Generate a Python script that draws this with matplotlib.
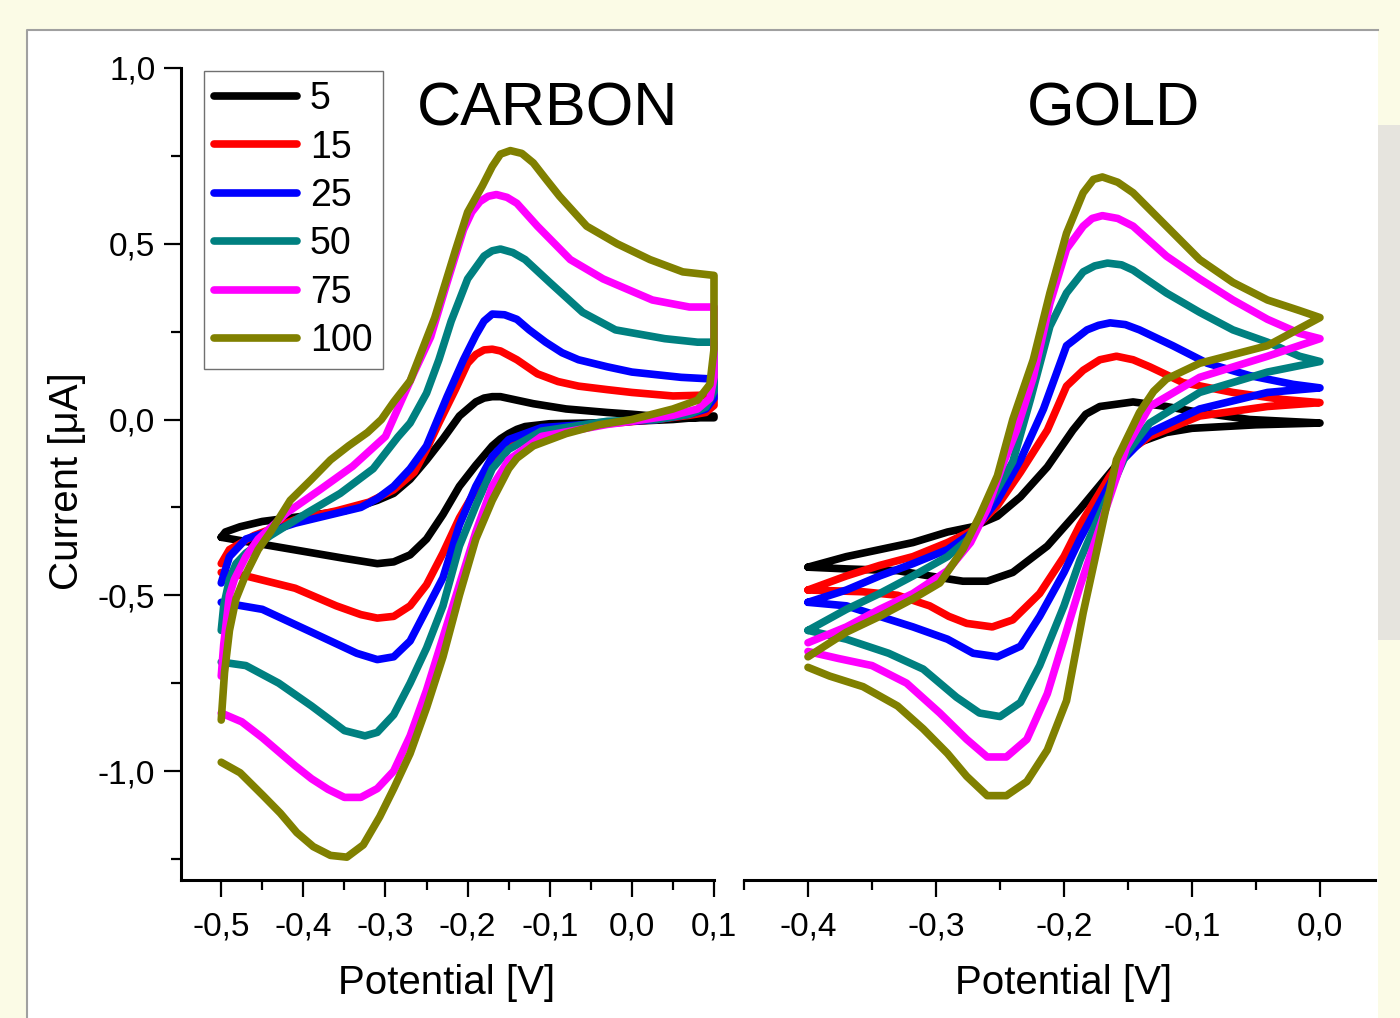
import matplotlib.pyplot as plt
from matplotlib.patches import Rectangle
from matplotlib.lines import Line2D
from matplotlib.ticker import MultipleLocator, FuncFormatter

plt.rcParams['font.family'] = ['Liberation Sans', 'DejaVu Sans']

rates = ['5', '15', '25', '50', '75', '100']
colors = ['#000000', '#ff0000', '#0000ff', '#008080', '#ff00ff', '#808000']

# CARBON: forward scan (left -> right) followed by reverse scan (right -> left)
c5_E = [-0.5, -0.495, -0.477, -0.45, -0.40, -0.35, -0.31, -0.29, -0.27, -0.25, -0.23, -0.21, -0.19, -0.18, -0.17, -0.16, -0.15, -0.12, -0.08, -0.03, 0.0, 0.05, 0.1,
        0.1, 0.05, 0.0, -0.05, -0.1, -0.13, -0.14, -0.15, -0.16, -0.17, -0.19, -0.21, -0.23, -0.25, -0.27, -0.29, -0.31, -0.35, -0.40, -0.45, -0.5]
c5_I = [-0.335, -0.32, -0.305, -0.29, -0.275, -0.26, -0.23, -0.21, -0.17, -0.115, -0.055, 0.01, 0.05, 0.061, 0.065, 0.065, 0.06, 0.045, 0.03, 0.02, 0.015, 0.005, 0.005,
        0.01, 0.0, -0.005, -0.01, -0.012, -0.02, -0.028, -0.04, -0.055, -0.075, -0.13, -0.19, -0.27, -0.34, -0.385, -0.405, -0.41, -0.395, -0.375, -0.355, -0.335]

c15_E = [-0.5, -0.49, -0.46, -0.41, -0.36, -0.32, -0.29, -0.265, -0.25, -0.235, -0.215, -0.2, -0.19, -0.18, -0.17, -0.16, -0.14, -0.115, -0.09, -0.065, -0.03, 0.0, 0.05, 0.1,
         0.1, 0.09, 0.07, 0.03, -0.02, -0.08, -0.12, -0.15, -0.17, -0.19, -0.21, -0.23, -0.25, -0.27, -0.29, -0.31, -0.33, -0.36, -0.41, -0.47, -0.5]
c15_I = [-0.41, -0.37, -0.33, -0.285, -0.26, -0.235, -0.2, -0.15, -0.085, -0.01, 0.085, 0.16, 0.185, 0.198, 0.2, 0.195, 0.17, 0.13, 0.108, 0.095, 0.085, 0.077, 0.067, 0.07,
         0.04, 0.02, 0.012, 0.0, -0.01, -0.02, -0.04, -0.075, -0.12, -0.2, -0.28, -0.38, -0.47, -0.53, -0.56, -0.565, -0.555, -0.53, -0.48, -0.445, -0.435]

c25_E = [-0.5, -0.49, -0.47, -0.41, -0.33, -0.31, -0.29, -0.27, -0.25, -0.225, -0.205, -0.19, -0.18, -0.17, -0.155, -0.14, -0.125, -0.105, -0.085, -0.065, -0.03, 0.0, 0.06, 0.1,
         0.1, 0.09, 0.07, 0.03, -0.03, -0.11, -0.15, -0.17, -0.19, -0.21, -0.23, -0.25, -0.27, -0.29, -0.31, -0.335, -0.39, -0.45, -0.5]
c25_I = [-0.465, -0.39, -0.34, -0.295, -0.25, -0.225, -0.19, -0.14, -0.075, 0.065, 0.17, 0.24, 0.28, 0.3, 0.298, 0.285, 0.255, 0.22, 0.19, 0.17, 0.15, 0.135, 0.12, 0.115,
         0.06, 0.03, 0.015, 0.0, -0.01, -0.023, -0.057, -0.105, -0.19, -0.30, -0.45, -0.54, -0.63, -0.675, -0.683, -0.665, -0.605, -0.54, -0.52]

c50_E = [-0.5, -0.497, -0.49, -0.482, -0.47, -0.44, -0.395, -0.355, -0.315, -0.285, -0.27, -0.25, -0.235, -0.22, -0.2, -0.18, -0.17, -0.16, -0.145, -0.13, -0.1, -0.06, -0.02, 0.04, 0.08, 0.1,
         0.1, 0.09, 0.07, 0.03, -0.03, -0.11, -0.15, -0.17, -0.19, -0.21, -0.23, -0.25, -0.27, -0.29, -0.31, -0.325, -0.35, -0.39, -0.43, -0.47, -0.5]
c50_I = [-0.6, -0.53, -0.455, -0.41, -0.38, -0.33, -0.265, -0.21, -0.14, -0.05, -0.01, 0.075, 0.17, 0.28, 0.4, 0.465, 0.48, 0.485, 0.475, 0.455, 0.39, 0.305, 0.255, 0.23, 0.22, 0.22,
         0.08, 0.035, 0.015, 0.0, -0.005, -0.033, -0.085, -0.14, -0.245, -0.36, -0.53, -0.65, -0.75, -0.84, -0.89, -0.9, -0.885, -0.815, -0.75, -0.70, -0.69]

c75_E = [-0.5, -0.497, -0.49, -0.484, -0.47, -0.455, -0.42, -0.38, -0.34, -0.3, -0.28, -0.265, -0.245, -0.225, -0.205, -0.195, -0.185, -0.175, -0.165, -0.152, -0.14, -0.115, -0.075, -0.035, 0.025, 0.07, 0.1,
         0.1, 0.095, 0.08, 0.05, 0.0, -0.03, -0.11, -0.15, -0.17, -0.19, -0.21, -0.23, -0.25, -0.27, -0.29, -0.31, -0.33, -0.35, -0.37, -0.39, -0.41, -0.43, -0.45, -0.475, -0.5]
c75_I = [-0.73, -0.64, -0.5, -0.455, -0.39, -0.34, -0.265, -0.2, -0.133, -0.048, 0.057, 0.135, 0.235, 0.39, 0.54, 0.59, 0.62, 0.635, 0.64, 0.632, 0.615, 0.55, 0.455, 0.4, 0.34, 0.32, 0.32,
         0.12, 0.06, 0.03, 0.012, -0.005, -0.014, -0.048, -0.115, -0.19, -0.32, -0.47, -0.62, -0.77, -0.9, -1.0, -1.05, -1.075, -1.075, -1.052, -1.022, -0.985, -0.945, -0.905, -0.86, -0.835]

c100_E = [-0.5, -0.496, -0.49, -0.482, -0.47, -0.455, -0.44, -0.416, -0.39, -0.367, -0.345, -0.322, -0.305, -0.29, -0.27, -0.255, -0.24, -0.215, -0.2, -0.182, -0.17, -0.16, -0.148, -0.134, -0.12, -0.105, -0.088, -0.055, -0.018, 0.022, 0.062, 0.1,
          0.1, 0.095, 0.08, 0.05, 0.0, -0.04, -0.08, -0.12, -0.14, -0.15, -0.17, -0.19, -0.21, -0.23, -0.25, -0.27, -0.29, -0.307, -0.327, -0.347, -0.367, -0.388, -0.408, -0.428, -0.449, -0.477, -0.5]
c100_I = [-0.855, -0.72, -0.6, -0.51, -0.44, -0.37, -0.32, -0.23, -0.17, -0.115, -0.075, -0.037, 0.0, 0.05, 0.11, 0.2, 0.29, 0.48, 0.59, 0.665, 0.72, 0.755, 0.765, 0.757, 0.73, 0.685, 0.635, 0.55, 0.5, 0.455, 0.42, 0.41,
          0.2, 0.1, 0.055, 0.03, 0.0, -0.015, -0.04, -0.075, -0.11, -0.14, -0.23, -0.34, -0.5, -0.675, -0.82, -0.95, -1.05, -1.13, -1.21, -1.245, -1.24, -1.215, -1.175, -1.12, -1.07, -1.005, -0.975]

# GOLD
g5_E = [-0.4, -0.37, -0.344, -0.318, -0.291, -0.271, -0.252, -0.234, -0.213, -0.193, -0.183, -0.172, -0.146, -0.12, -0.094, -0.055, 0.0,
        -0.05, -0.1, -0.12, -0.141, -0.159, -0.1875, -0.213, -0.24, -0.26, -0.279, -0.305, -0.33, -0.37, -0.4]
g5_I = [-0.42, -0.39, -0.37, -0.35, -0.32, -0.305, -0.275, -0.22, -0.135, -0.03, 0.015, 0.037, 0.05, 0.037, 0.02, 0.0, -0.01,
        -0.015, -0.025, -0.037, -0.065, -0.13, -0.255, -0.36, -0.435, -0.46, -0.46, -0.445, -0.43, -0.425, -0.42]

g15_E = [-0.4, -0.37, -0.344, -0.318, -0.291, -0.271, -0.252, -0.234, -0.213, -0.198, -0.185, -0.172, -0.159, -0.146, -0.133, -0.107, -0.068, -0.029, 0.0,
         -0.041, -0.094, -0.133, -0.151, -0.164, -0.1875, -0.2, -0.219, -0.24, -0.256, -0.276, -0.29, -0.305, -0.33, -0.357, -0.4]
g15_I = [-0.485, -0.445, -0.415, -0.39, -0.35, -0.315, -0.245, -0.15, -0.03, 0.095, 0.14, 0.17, 0.18, 0.17, 0.15, 0.105, 0.077, 0.057, 0.048,
         0.037, 0.01, -0.048, -0.095, -0.16, -0.3, -0.39, -0.495, -0.57, -0.59, -0.58, -0.56, -0.53, -0.5, -0.49, -0.485]

g25_E = [-0.4, -0.37, -0.344, -0.318, -0.291, -0.271, -0.252, -0.234, -0.216, -0.198, -0.182, -0.173, -0.164, -0.152, -0.141, -0.115, -0.088, -0.055, -0.021, 0.0,
         -0.041, -0.094, -0.133, -0.154, -0.1875, -0.2, -0.219, -0.234, -0.252, -0.271, -0.291, -0.318, -0.344, -0.37, -0.4]
g25_I = [-0.52, -0.485, -0.445, -0.41, -0.37, -0.32, -0.23, -0.115, 0.03, 0.21, 0.255, 0.268, 0.275, 0.27, 0.255, 0.21, 0.16, 0.125, 0.1, 0.09,
         0.077, 0.03, -0.037, -0.115, -0.34, -0.435, -0.56, -0.645, -0.675, -0.665, -0.625, -0.59, -0.56, -0.53, -0.52]

g50_E = [-0.4, -0.37, -0.344, -0.318, -0.291, -0.273, -0.257, -0.24, -0.226, -0.211, -0.198, -0.185, -0.176, -0.166, -0.155, -0.146, -0.12, -0.094, -0.068, -0.041, -0.016, 0.0,
         -0.041, -0.094, -0.133, -0.151, -0.1875, -0.2, -0.219, -0.234, -0.25, -0.266, -0.284, -0.31, -0.337, -0.37, -0.4]
g50_I = [-0.6, -0.54, -0.495, -0.445, -0.39, -0.335, -0.23, -0.12, 0.06, 0.265, 0.36, 0.42, 0.437, 0.445, 0.44, 0.425, 0.36, 0.305, 0.255, 0.22, 0.18, 0.165,
         0.135, 0.077, -0.01, -0.095, -0.4, -0.53, -0.70, -0.805, -0.845, -0.835, -0.79, -0.71, -0.665, -0.625, -0.6]

g75_E = [-0.4, -0.37, -0.344, -0.318, -0.291, -0.273, -0.26, -0.248, -0.237, -0.224, -0.211, -0.198, -0.185, -0.178, -0.17, -0.158, -0.146, -0.12, -0.094, -0.068, -0.041, -0.016, 0.0,
         -0.041, -0.094, -0.133, -0.151, -0.1875, -0.2, -0.213, -0.229, -0.245, -0.26, -0.276, -0.297, -0.323, -0.35, -0.376, -0.4]
g75_I = [-0.635, -0.59, -0.54, -0.495, -0.43, -0.35, -0.255, -0.13, -0.03, 0.12, 0.33, 0.485, 0.55, 0.572, 0.58, 0.572, 0.55, 0.465, 0.4, 0.34, 0.285, 0.245, 0.23,
         0.18, 0.12, 0.037, -0.077, -0.475, -0.625, -0.78, -0.91, -0.96, -0.96, -0.91, -0.835, -0.75, -0.70, -0.68, -0.66]

g100_E = [-0.4, -0.37, -0.344, -0.318, -0.297, -0.279, -0.266, -0.252, -0.24, -0.224, -0.211, -0.198, -0.185, -0.177, -0.17, -0.158, -0.146, -0.12, -0.094, -0.068, -0.041, -0.016, 0.0,
          -0.041, -0.094, -0.12, -0.13, -0.141, -0.159, -0.17, -0.185, -0.198, -0.213, -0.229, -0.245, -0.26, -0.276, -0.291, -0.31, -0.33, -0.357, -0.383, -0.4]
g100_I = [-0.675, -0.605, -0.56, -0.51, -0.465, -0.37, -0.275, -0.16, 0.0, 0.17, 0.36, 0.53, 0.645, 0.683, 0.69, 0.675, 0.645, 0.55, 0.455, 0.39, 0.34, 0.31, 0.29,
          0.21, 0.16, 0.115, 0.08, 0.02, -0.115, -0.3, -0.55, -0.8, -0.94, -1.03, -1.07, -1.07, -1.015, -0.95, -0.88, -0.815, -0.76, -0.73, -0.705]

carbon = [(c5_E, c5_I), (c15_E, c15_I), (c25_E, c25_I), (c50_E, c50_I), (c75_E, c75_I), (c100_E, c100_I)]
gold = [(g5_E, g5_I), (g15_E, g15_I), (g25_E, g25_I), (g50_E, g50_I), (g75_E, g75_I), (g100_E, g100_I)]


def comma(v, pos):
    s = f"{v:.1f}"
    if s == '-0.0':
        s = '0.0'
    return s.replace('.', ',')


W, H = 1400, 1018
fig = plt.figure(figsize=(W / 100, H / 100), dpi=100, facecolor='#fbfbe6')

# slide frame (behind the axes)
fig.patches.append(Rectangle((27 / W, -0.01), (1378 - 27) / W, 1.01 - 30 / H, transform=fig.transFigure,
                             facecolor='white', edgecolor='none', zorder=-2))
fig.patches.append(Rectangle((1378 / W, 1 - 640 / H), 22 / W, (640 - 125) / H, transform=fig.transFigure,
                             facecolor='#e6e4de', edgecolor='none', zorder=-2))
fig.lines.append(Line2D([27 / W, 27 / W, 1378 / W], [0, 1 - 30 / H, 1 - 30 / H], transform=fig.transFigure,
                        color='#a0a0a0', lw=1.5, zorder=-1))

y0, y1 = 1 - 880 / H, (880 - 68) / H
ax1 = fig.add_axes([181 / W, y0, (714 - 181) / W, y1])
ax2 = fig.add_axes([744 / W, y0, (1375 - 744) / W, y1])

for ax, data in [(ax1, carbon), (ax2, gold)]:
    for (E, I), c, r in zip(data, colors, rates):
        ax.plot(E, I, color=c, lw=5.5, label=r, clip_on=False,
                solid_capstyle='round', solid_joinstyle='round')
    ax.set_ylim(-1.31, 1.0)
    ax.set_facecolor('none')
    for s in ['top', 'right']:
        ax.spines[s].set_visible(False)
    ax.spines['bottom'].set_linewidth(2.2)
    ax.spines['left'].set_linewidth(2.2)
    ax.xaxis.set_major_locator(MultipleLocator(0.1))
    ax.xaxis.set_minor_locator(MultipleLocator(0.05))
    ax.xaxis.set_major_formatter(FuncFormatter(comma))
    ax.tick_params(which='major', direction='out', length=12.5, width=1.6, labelsize=24, pad=10)
    ax.tick_params(which='minor', direction='out', length=7, width=1.6)

ax1.set_xlim(-0.549, 0.1)
ax1.yaxis.set_major_locator(MultipleLocator(0.5))
ax1.yaxis.set_minor_locator(MultipleLocator(0.25))
ax1.yaxis.set_major_formatter(FuncFormatter(comma))
ax1.tick_params(axis='y', pad=6)

ax2.set_xlim(-0.45, 0.043)
ax2.spines['left'].set_visible(False)
ax2.set_yticks([])
ax2.yaxis.set_minor_locator(plt.NullLocator())

leg = ax1.legend(loc='upper left', bbox_to_anchor=(204 / W, 1 - 71 / H), bbox_transform=fig.transFigure,
                 borderaxespad=0, fontsize=27, handlelength=2.2, handletextpad=0.35, labelspacing=0.33,
                 borderpad=0.27, fancybox=False, framealpha=1, edgecolor='#707070')
leg.get_frame().set_linewidth(1.0)

fig.text(548 / W, 1 - 110 / H, 'CARBON', fontsize=44, ha='center', va='center')
fig.text(1114 / W, 1 - 110 / H, 'GOLD', fontsize=44, ha='center', va='center')
fig.text(67 / W, 1 - 481 / H, 'Current [μA]', rotation=90, fontsize=29, ha='center', va='center')
fig.text(447 / W, 1 - 983 / H, 'Potential [V]', fontsize=29, ha='center', va='center')
fig.text(1064 / W, 1 - 983 / H, 'Potential [V]', fontsize=29, ha='center', va='center')

fig.savefig('out.png', dpi=100, facecolor=fig.get_facecolor())
